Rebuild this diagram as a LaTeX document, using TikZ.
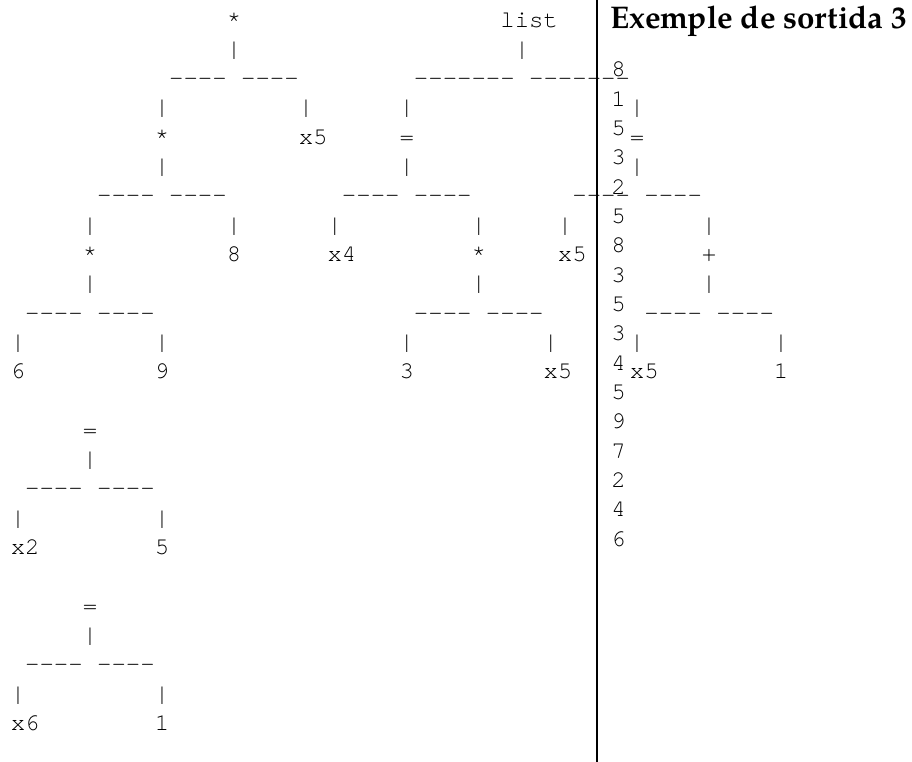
\documentclass[tikz,border=0pt]{standalone}
\usepackage{fontspec}
\newfontfamily\asciifont{texgyrecursor}[Extension=.otf, UprightFont=*-regular, Ligatures=TeXOff]
\newfontfamily\headfont{texgyrepagella}[Extension=.otf, UprightFont=*-bold]
\tikzset{
  txt/.style={font=\asciifont\fontsize{18pt}{18pt}\selectfont, inner sep=0pt, anchor=base west},
  head/.style={font=\headfont\fontsize{23.5pt}{23.5pt}\selectfont, inner sep=0pt, anchor=base west},
}
\begin{document}
\begin{tikzpicture}[x=0.75pt, y=-0.75pt]
  \useasboundingbox (0,0) rectangle (912,762);

  % Separator between the two panels
  \coordinate (septop) at (597,0);
  \coordinate (sepbot) at (597,762);
  \draw[line width=1.7pt] (septop) -- (sepbot);

  % Heading of the right panel
  \node[head] (title) at (610.5,28.5) {Exemple de sortida 3};

  % ASCII trees, one unit = one character cell
  \begin{scope}[xshift=7.875pt, yshift=-20.325pt, x=10.8pt, y=-21.975pt]
    % Forks under each operator: column, row, half width, dashes
    \foreach \c/\r/\k/\d [count=\n] in {15/0/4/----, 10/4/4/----, 5/8/4/----,
        35/0/7/-------, 27/4/4/----, 32/8/4/----, 43/4/4/----, 48/8/4/----,
        5/14/4/----, 5/20/4/----} {
      \node[txt] (bar\n) at (\c,\r+1) {|};
      \node[txt] (dl\n) at (\c-\k,\r+2) {\d};
      \node[txt] (dr\n) at (\c+1,\r+2) {\d};
      \node[txt] (bl\n) at (\c-\k-1,\r+3) {|};
      \node[txt] (br\n) at (\c+\k+1,\r+3) {|};
    }

    % Operators and leaves
    \foreach \c/\r/\t [count=\n] in {15/0/*, 10/4/*, 20/4/x5, 5/8/*, 15/8/8,
        0/12/6, 10/12/9, 34/0/list, 27/4/=, 43/4/=, 22/8/x4, 32/8/*,
        38/8/x5, 48/8/+, 27/12/3, 37/12/x5, 43/12/x5, 53/12/1,
        5/14/=, 0/18/x2, 10/18/5, 5/20/=, 0/24/x6, 10/24/1} {
      \node[txt] (lab\n) at (\c,\r) {\t};
    }
  \end{scope}

  % Printed values
  \foreach \v [count=\i from 0] in {8,1,5,3,2,5,8,3,5,3,4,5,9,7,2,4,6}
    \node[txt] (val\i) at (611.1,77+29.33*\i) {\v};
\end{tikzpicture}
\end{document}
